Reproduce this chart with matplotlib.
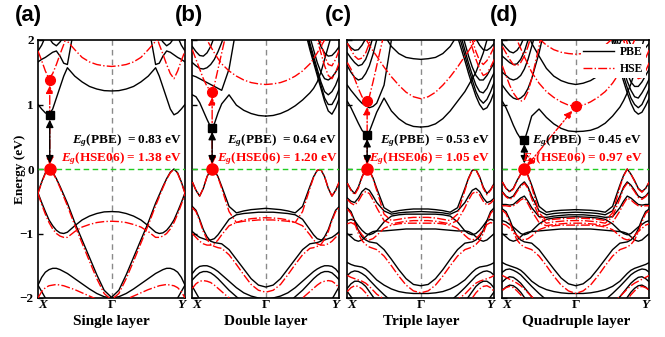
import numpy as np
import matplotlib
matplotlib.use('Agg')
import matplotlib.pyplot as plt
from matplotlib.lines import Line2D

plt.rcParams['font.family'] = ['Liberation Serif', 'DejaVu Serif']
plt.rcParams['font.weight'] = 'bold'
plt.rcParams['mathtext.fontset'] = 'custom'
plt.rcParams['mathtext.rm'] = 'Liberation Serif:bold'
plt.rcParams['mathtext.it'] = 'Liberation Serif:italic:bold'
plt.rcParams['mathtext.bf'] = 'Liberation Serif:bold'

# ---------------- data ----------------
# k grid from X (0) to Gamma (1); Gamma->Y mirrors it (Y = 2)
K_HALF = [0, .05, .1, .15, .2, .25, .3, .35, .4, .5, .6, .7, .8, .9, 1.0]
K_TICKS = [0, 1, 2]
K_TICK_LABELS = ['X', 'Γ', 'Y']
PANEL_TAGS = ['(a)', '(b)', '(c)', '(d)']
LAYER_NAMES = ['Single layer', 'Double layer', 'Triple layer', 'Quadruple layer']
EG_PBE = [0.83, 0.64, 0.53, 0.45]
EG_HSE = [1.38, 1.20, 1.05, 0.97]
K_EDGE = [0.16, 0.27, 0.27, 0.30]      # k of VBM / PBE CBM
K_HSE_CBM = [0.16, 0.27, 0.27, 1.0]    # k of HSE CBM

# ---- (a) single layer ----
a_pbe_sym = [
    [-0.37, -0.20, -0.06, 0.00, -0.05, -0.15, -0.27, -0.40, -0.53, -0.83, -1.10, -1.37, -1.64, -1.88, -1.99],
    [-0.37, -0.52, -0.66, -0.79, -0.88, -0.95, -0.99, -1.00, -0.98, -0.88, -0.79, -0.73, -0.69, -0.665, -0.66],
    [-1.80, -1.68, -1.60, -1.56, -1.54, -1.54, -1.56, -1.59, -1.62, -1.70, -1.78, -1.86, -1.93, -1.98, -2.00],
    [-1.80, -1.90, -2.00, -2.10, -2.20, -2.30, -2.40, -2.50, -2.60, -2.80, -3.0, -3.0, -3.0, -3.0, -3.0],
    [1.00, 0.93, 0.87, 0.84, 0.93, 1.10, 1.27, 1.44, 1.57, 1.44, 1.35, 1.28, 1.24, 1.215, 1.21],
    [1.66, 1.70, 1.73, 1.77, 1.81, 1.83, 1.75, 1.64, 1.62, 2.25, 3.0, 3.0, 3.0, 3.0, 3.0],
    [2.30, 2.20, 2.10, 2.03, 1.95, 1.91, 1.97, 2.05, 2.15, 2.30, 2.50, 2.60, 2.70, 2.75, 2.80],
    [1.83, 1.92, 2.05, 2.20, 2.35, 2.50, 2.60, 2.70, 2.80, 3.0, 3.0, 3.0, 3.0, 3.0, 3.0],
]
a_pbe_left = []
a_pbe_right = []
a_hse_sym = [
    [-0.38, -0.21, -0.07, 0.00, -0.06, -0.16, -0.29, -0.43, -0.57, -0.87, -1.15, -1.43, -1.70, -1.93, -2.03],
    [-0.38, -0.55, -0.70, -0.83, -0.93, -1.00, -1.04, -1.06, -1.06, -0.97, -0.90, -0.86, -0.83, -0.815, -0.81],
    [-2.00, -1.90, -1.84, -1.81, -1.80, -1.79, -1.80, -1.81, -1.83, -1.87, -1.92, -1.97, -2.02, -2.07, -2.10],
    [1.83, 1.68, 1.52, 1.40, 1.48, 1.62, 1.78, 1.93, 2.10, 2.50, 3.0, 3.0, 3.0, 3.0, 3.0],
    [2.40, 2.35, 2.30, 2.25, 2.20, 2.15, 2.10, 2.04, 1.98, 1.85, 1.73, 1.66, 1.62, 1.60, 1.59],
]
a_hse_left = []
a_hse_right = []

# ---- (b) double layer ----
b_pbe_sym = [
    [-0.20, -0.33, -0.42, -0.30, -0.12, -0.01, -0.02, -0.12, -0.27, -0.58, -0.68, -0.65, -0.63, -0.62, -0.61],
    [-0.58, -0.64, -0.78, -0.94, -1.05, -1.12, -1.14, -1.15, -1.16, -1.25, -1.40, -1.55, -1.70, -1.80, -1.83],
    [-0.97, -1.02, -1.06, -1.08, -1.10, -1.10, -1.08, -1.02, -0.94, -0.78, -0.71, -0.69, -0.68, -0.67, -0.67],
    [-1.62, -1.55, -1.51, -1.50, -1.50, -1.52, -1.55, -1.59, -1.64, -1.74, -1.84, -1.92, -1.97, -2.00, -2.02],
    [-1.72, -1.66, -1.61, -1.59, -1.59, -1.61, -1.65, -1.70, -1.76, -1.88, -1.98, -2.08, -2.14, -2.18, -2.20],
    [-1.82, -1.92, -2.02, -2.12, -2.22, -2.32, -2.42, -2.52, -2.62, -2.82, -3.0, -3.0, -3.0, -3.0, -3.0],
    [1.90, 1.82, 1.76, 1.75, 1.80, 1.90, 2.05, 2.20, 2.40, 2.80, 3.0, 3.0, 3.0, 3.0, 3.0],
]
b_pbe_left = [
    [1.15, 1.12, 1.03, 0.90, 0.77, 0.65, 0.70, 0.87, 1.01, 1.15, 0.99, 0.91, 0.86, 0.83, 0.82],
    [1.45, 1.43, 1.40, 1.37, 1.34, 1.31, 1.28, 1.25, 1.22, 1.55, 2.20, 3.0, 3.0, 3.0, 3.0],
    [1.65, 1.60, 1.56, 1.55, 1.57, 1.62, 1.70, 1.82, 1.96, 2.30, 3.0, 3.0, 3.0, 3.0, 3.0],
]
b_pbe_right = [
    [2.50, 2.30, 2.10, 1.90, 1.70, 1.50, 1.35, 1.25, 1.18, 1.07, 0.98, 0.91, 0.86, 0.83, 0.82],
    [1.10, 0.95, 0.85, 0.90, 1.05, 1.25, 1.45, 1.65, 1.85, 2.30, 3.0, 3.0, 3.0, 3.0, 3.0],
    [1.25, 1.10, 1.00, 1.00, 1.10, 1.30, 1.50, 1.70, 1.90, 2.40, 3.0, 3.0, 3.0, 3.0, 3.0],
    [1.45, 1.30, 1.20, 1.15, 1.20, 1.35, 1.55, 1.75, 1.95, 2.45, 3.0, 3.0, 3.0, 3.0, 3.0],
    [1.60, 1.50, 1.42, 1.38, 1.40, 1.50, 1.65, 1.85, 2.05, 2.55, 3.0, 3.0, 3.0, 3.0, 3.0],
]
b_hse_sym = [
    [-0.20, -0.33, -0.42, -0.30, -0.12, -0.01, -0.02, -0.13, -0.30, -0.66, -0.83, -0.79, -0.77, -0.76, -0.755],
    [-0.60, -0.66, -0.80, -0.97, -1.09, -1.17, -1.20, -1.22, -1.23, -1.33, -1.48, -1.64, -1.79, -1.88, -1.91],
    [-1.00, -1.06, -1.12, -1.16, -1.18, -1.18, -1.16, -1.10, -1.02, -0.88, -0.83, -0.81, -0.80, -0.79, -0.79],
    [-1.85, -1.78, -1.74, -1.73, -1.74, -1.76, -1.80, -1.85, -1.90, -2.00, -2.10, -2.20, -2.25, -2.30, -2.30],
    [2.60, 2.40, 2.25, 2.10, 2.00, 1.90, 1.80, 1.71, 1.63, 1.52, 1.44, 1.38, 1.34, 1.32, 1.31],
]
b_hse_left = [
    [1.85, 1.70, 1.55, 1.40, 1.28, 1.21, 1.30, 1.55, 1.80, 2.30, 3.0, 3.0, 3.0, 3.0, 3.0],
]
b_hse_right = [
    [1.65, 1.50, 1.40, 1.45, 1.60, 1.80, 2.00, 2.20, 2.40, 2.80, 3.0, 3.0, 3.0, 3.0, 3.0],
    [1.85, 1.70, 1.60, 1.62, 1.75, 1.95, 2.15, 2.35, 2.55, 3.0, 3.0, 3.0, 3.0, 3.0, 3.0],
]

# ---- (c) triple layer ----
c_pbe_sym = [
    [-0.22, -0.32, -0.38, -0.28, -0.12, -0.01, -0.02, -0.14, -0.30, -0.60, -0.67, -0.645, -0.63, -0.62, -0.62],
    [-0.45, -0.50, -0.52, -0.45, -0.35, -0.30, -0.33, -0.42, -0.52, -0.65, -0.70, -0.68, -0.67, -0.665, -0.66],
    [-0.60, -0.66, -0.80, -0.95, -1.05, -1.10, -1.13, -1.14, -1.15, -1.25, -1.40, -1.56, -1.70, -1.79, -1.81],
    [-0.80, -0.78, -0.80, -0.88, -0.95, -1.00, -1.02, -1.00, -0.96, -0.82, -0.73, -0.71, -0.70, -0.70, -0.70],
    [-1.00, -1.05, -1.10, -1.12, -1.10, -1.05, -1.00, -0.97, -0.96, -0.96, -0.95, -0.94, -0.93, -0.93, -0.93],
    [-1.45, -1.48, -1.50, -1.51, -1.52, -1.55, -1.60, -1.66, -1.72, -1.80, -1.86, -1.90, -1.92, -1.93, -1.93],
    [-1.65, -1.60, -1.58, -1.59, -1.62, -1.66, -1.72, -1.78, -1.84, -1.95, -2.05, -2.12, -2.16, -2.18, -2.20],
    [-1.85, -1.78, -1.74, -1.74, -1.77, -1.82, -1.90, -1.98, -2.06, -2.20, -2.30, -2.40, -2.40, -2.40, -2.40],
    [-1.90, -1.98, -2.06, -2.15, -2.25, -2.35, -2.45, -2.55, -2.65, -2.85, -3.0, -3.0, -3.0, -3.0, -3.0],
    [3.0, 3.0, 3.0, 3.0, 3.0, 2.80, 2.60, 2.45, 2.30, 2.08, 1.90, 1.79, 1.73, 1.71, 1.70],
    [1.95, 1.88, 1.84, 1.85, 1.92, 2.02, 2.15, 2.30, 2.45, 2.80, 3.0, 3.0, 3.0, 3.0, 3.0],
]
c_pbe_left = [
    [1.05, 0.95, 0.83, 0.71, 0.60, 0.54, 0.58, 0.73, 0.88, 1.10, 0.90, 0.78, 0.70, 0.66, 0.65],
    [1.30, 1.22, 1.15, 1.08, 1.02, 0.98, 0.95, 0.97, 1.02, 1.30, 2.00, 2.60, 3.0, 3.0, 3.0],
    [1.60, 1.50, 1.42, 1.38, 1.40, 1.48, 1.60, 1.78, 2.00, 2.50, 3.0, 3.0, 3.0, 3.0, 3.0],
    [1.80, 1.72, 1.65, 1.60, 1.62, 1.70, 1.85, 2.05, 2.30, 3.0, 3.0, 3.0, 3.0, 3.0, 3.0],
]
c_pbe_right = [
    [2.40, 2.20, 2.00, 1.80, 1.65, 1.50, 1.40, 1.30, 1.20, 1.05, 0.90, 0.78, 0.70, 0.66, 0.65],
    [1.20, 1.05, 0.95, 0.92, 1.00, 1.13, 1.30, 1.48, 1.68, 2.05, 2.60, 3.0, 3.0, 3.0, 3.0],
    [1.35, 1.20, 1.08, 1.02, 1.08, 1.20, 1.38, 1.56, 1.76, 2.15, 2.70, 3.0, 3.0, 3.0, 3.0],
    [1.50, 1.38, 1.25, 1.18, 1.20, 1.30, 1.46, 1.64, 1.84, 2.25, 2.80, 3.0, 3.0, 3.0, 3.0],
    [1.65, 1.55, 1.45, 1.38, 1.38, 1.45, 1.58, 1.75, 1.95, 2.40, 3.0, 3.0, 3.0, 3.0, 3.0],
]
c_hse_sym = [
    [-0.22, -0.33, -0.40, -0.30, -0.13, -0.01, -0.02, -0.15, -0.33, -0.70, -0.80, -0.78, -0.76, -0.75, -0.75],
    [-0.47, -0.53, -0.56, -0.50, -0.40, -0.35, -0.38, -0.48, -0.60, -0.80, -0.85, -0.83, -0.81, -0.80, -0.80],
    [-0.62, -0.69, -0.84, -1.00, -1.11, -1.17, -1.21, -1.23, -1.25, -1.35, -1.50, -1.66, -1.80, -1.89, -1.92],
    [-0.85, -0.83, -0.86, -0.94, -1.02, -1.08, -1.10, -1.08, -1.03, -0.92, -0.87, -0.85, -0.84, -0.84, -0.84],
    [-1.65, -1.68, -1.70, -1.72, -1.74, -1.77, -1.82, -1.88, -1.94, -2.02, -2.10, -2.15, -2.18, -2.20, -2.20],
    [-1.90, -1.84, -1.81, -1.82, -1.86, -1.92, -2.00, -2.08, -2.16, -2.30, -2.40, -2.50, -2.50, -2.50, -2.50],
    [2.80, 2.60, 2.45, 2.30, 2.15, 2.02, 1.92, 1.83, 1.75, 1.58, 1.43, 1.30, 1.19, 1.12, 1.09],
]
c_hse_left = [
    [1.65, 1.55, 1.40, 1.25, 1.12, 1.06, 1.12, 1.35, 1.60, 2.10, 3.0, 3.0, 3.0, 3.0, 3.0],
    [1.95, 1.85, 1.75, 1.70, 1.72, 1.80, 1.95, 2.10, 2.30, 3.0, 3.0, 3.0, 3.0, 3.0, 3.0],
]
c_hse_right = [
    [1.70, 1.58, 1.48, 1.45, 1.55, 1.70, 1.88, 2.05, 2.25, 2.70, 3.0, 3.0, 3.0, 3.0, 3.0],
    [1.90, 1.78, 1.68, 1.62, 1.68, 1.82, 2.00, 2.20, 2.40, 3.0, 3.0, 3.0, 3.0, 3.0, 3.0],
]

# ---- (d) quadruple layer ----
d_pbe_sym = [
    [-0.20, -0.30, -0.35, -0.30, -0.18, -0.08, 0.00, -0.10, -0.25, -0.58, -0.67, -0.65, -0.64, -0.635, -0.63],
    [-0.35, -0.42, -0.45, -0.42, -0.33, -0.25, -0.20, -0.28, -0.42, -0.65, -0.71, -0.69, -0.68, -0.675, -0.67],
    [-0.55, -0.55, -0.56, -0.55, -0.50, -0.45, -0.42, -0.50, -0.60, -0.74, -0.75, -0.73, -0.72, -0.71, -0.71],
    [-0.62, -0.66, -0.78, -0.93, -1.04, -1.10, -1.13, -1.14, -1.15, -1.25, -1.40, -1.55, -1.69, -1.78, -1.81],
    [-0.80, -0.82, -0.86, -0.90, -0.95, -1.00, -1.02, -1.00, -0.96, -0.85, -0.78, -0.76, -0.75, -0.745, -0.74],
    [-1.00, -1.05, -1.10, -1.12, -1.10, -1.05, -1.00, -0.98, -0.97, -0.96, -0.95, -0.94, -0.93, -0.93, -0.93],
    [-1.45, -1.48, -1.50, -1.52, -1.54, -1.57, -1.62, -1.68, -1.74, -1.82, -1.87, -1.90, -1.92, -1.93, -1.93],
    [-1.60, -1.56, -1.55, -1.57, -1.60, -1.64, -1.70, -1.76, -1.82, -1.93, -2.03, -2.10, -2.14, -2.16, -2.17],
    [-1.75, -1.70, -1.67, -1.68, -1.72, -1.77, -1.84, -1.91, -1.98, -2.10, -2.20, -2.30, -2.30, -2.30, -2.30],
    [-1.88, -1.83, -1.80, -1.81, -1.85, -1.91, -1.99, -2.07, -2.15, -2.30, -2.40, -2.50, -2.50, -2.50, -2.50],
    [3.0, 3.0, 3.0, 3.0, 3.0, 2.60, 2.30, 2.10, 1.95, 1.75, 1.56, 1.44, 1.37, 1.33, 1.31],
    [1.95, 1.88, 1.82, 1.80, 1.84, 1.92, 2.05, 2.20, 2.35, 2.70, 3.0, 3.0, 3.0, 3.0, 3.0],
]
d_pbe_left = [
    [1.05, 0.95, 0.82, 0.68, 0.56, 0.47, 0.44, 0.62, 0.82, 0.93, 0.80, 0.70, 0.63, 0.59, 0.58],
    [1.30, 1.22, 1.15, 1.10, 1.08, 1.10, 1.15, 1.25, 1.40, 1.80, 2.30, 3.0, 3.0, 3.0, 3.0],
    [1.50, 1.45, 1.40, 1.38, 1.40, 1.45, 1.55, 1.70, 1.90, 2.30, 3.0, 3.0, 3.0, 3.0, 3.0],
    [1.75, 1.70, 1.65, 1.62, 1.63, 1.70, 1.82, 2.00, 2.20, 2.70, 3.0, 3.0, 3.0, 3.0, 3.0],
]
d_pbe_right = [
    [2.30, 2.10, 1.90, 1.70, 1.50, 1.32, 1.18, 1.06, 0.96, 0.82, 0.71, 0.64, 0.60, 0.585, 0.58],
    [1.10, 0.98, 0.88, 0.85, 0.90, 1.02, 1.18, 1.36, 1.55, 1.95, 2.50, 3.0, 3.0, 3.0, 3.0],
    [1.25, 1.12, 1.00, 0.95, 1.00, 1.10, 1.26, 1.44, 1.62, 2.05, 2.60, 3.0, 3.0, 3.0, 3.0],
    [1.40, 1.28, 1.18, 1.10, 1.12, 1.22, 1.36, 1.54, 1.72, 2.15, 2.70, 3.0, 3.0, 3.0, 3.0],
    [1.55, 1.45, 1.35, 1.28, 1.28, 1.35, 1.48, 1.64, 1.84, 2.25, 2.80, 3.0, 3.0, 3.0, 3.0],
]
d_hse_sym = [
    [-0.20, -0.30, -0.36, -0.31, -0.19, -0.08, 0.00, -0.11, -0.28, -0.68, -0.80, -0.78, -0.77, -0.765, -0.76],
    [-0.36, -0.43, -0.47, -0.44, -0.35, -0.27, -0.22, -0.30, -0.46, -0.74, -0.84, -0.82, -0.81, -0.80, -0.80],
    [-0.57, -0.57, -0.58, -0.57, -0.53, -0.48, -0.45, -0.54, -0.65, -0.83, -0.88, -0.86, -0.85, -0.84, -0.84],
    [-0.64, -0.69, -0.82, -0.98, -1.10, -1.17, -1.21, -1.23, -1.25, -1.35, -1.50, -1.66, -1.80, -1.89, -1.93],
    [-0.85, -0.87, -0.92, -0.97, -1.03, -1.08, -1.10, -1.08, -1.04, -0.94, -0.90, -0.88, -0.87, -0.87, -0.87],
    [-1.65, -1.68, -1.71, -1.74, -1.77, -1.81, -1.86, -1.92, -1.98, -2.06, -2.12, -2.16, -2.18, -2.20, -2.20],
    [-1.88, -1.84, -1.82, -1.84, -1.89, -1.95, -2.03, -2.11, -2.19, -2.30, -2.40, -2.50, -2.50, -2.50, -2.50],
    [2.60, 2.45, 2.30, 2.15, 2.00, 1.87, 1.74, 1.62, 1.50, 1.33, 1.20, 1.11, 1.04, 0.99, 0.97],
    [3.0, 3.0, 3.0, 3.0, 2.80, 2.60, 2.45, 2.30, 2.18, 2.02, 1.92, 1.85, 1.81, 1.79, 1.78],
]
d_hse_left = [
    [1.60, 1.45, 1.30, 1.18, 1.10, 1.05, 1.08, 1.20, 1.40, 1.90, 2.50, 3.0, 3.0, 3.0, 3.0],
    [1.90, 1.80, 1.70, 1.62, 1.60, 1.65, 1.75, 1.90, 2.10, 2.60, 3.0, 3.0, 3.0, 3.0, 3.0],
]
d_hse_right = [
    [1.65, 1.52, 1.42, 1.40, 1.48, 1.62, 1.80, 2.00, 2.20, 2.60, 3.0, 3.0, 3.0, 3.0, 3.0],
    [1.85, 1.72, 1.62, 1.58, 1.64, 1.78, 1.95, 2.15, 2.35, 2.80, 3.0, 3.0, 3.0, 3.0, 3.0],
]

PANEL_BANDS = [
    (a_pbe_sym, a_pbe_left, a_pbe_right, a_hse_sym, a_hse_left, a_hse_right),
    (b_pbe_sym, b_pbe_left, b_pbe_right, b_hse_sym, b_hse_left, b_hse_right),
    (c_pbe_sym, c_pbe_left, c_pbe_right, c_hse_sym, c_hse_left, c_hse_right),
    (d_pbe_sym, d_pbe_left, d_pbe_right, d_hse_sym, d_hse_left, d_hse_right),
]

# ---------------- figure ----------------
W, H = 665, 337
fig = plt.figure(figsize=(W / 100, H / 100), dpi=100)

AX_LEFT_PX = [38, 192.3, 347.3, 502.3]
AX_W_PX = 147
AX_TOP_PX, AX_BOT_PX = 40, 298
TAG_X_PX = [15, 175, 325, 490]
TEXT_K = [1.95, 1.97, 1.94, 1.90]

kh = np.array(K_HALF)
k_full = np.concatenate([kh, 2 - kh[-2::-1]])


def full(vals):
    v = np.asarray(vals, dtype=float)
    return np.concatenate([v, v[-2::-1]])


for i in range(4):
    ax = fig.add_axes([AX_LEFT_PX[i] / W, 1 - AX_BOT_PX / H,
                       AX_W_PX / W, (AX_BOT_PX - AX_TOP_PX) / H])
    psym, pleft, pright, hsym, hleft, hright = PANEL_BANDS[i]
    for b in psym:
        ax.plot(k_full, full(b), color='black', lw=1.0, zorder=2)
    for b in pleft:
        ax.plot(kh, b, color='black', lw=1.0, zorder=2)
    for b in pright:
        ax.plot(2 - kh, b, color='black', lw=1.0, zorder=2)
    for b in hsym:
        ax.plot(k_full, full(b), color='red', lw=1.0, ls='-.', zorder=3)
    for b in hleft:
        ax.plot(kh, b, color='red', lw=1.0, ls='-.', zorder=3)
    for b in hright:
        ax.plot(2 - kh, b, color='red', lw=1.0, ls='-.', zorder=3)

    ax.axvline(1, color='#8a8a8a', lw=1.0, ls=(0, (4, 3)), zorder=1)
    ax.axhline(0, color='#22cc22', lw=1.0, ls=(0, (4, 2.5)), zorder=3.5)

    kv = K_EDGE[i]
    kc = K_HSE_CBM[i]
    # gap arrows
    ax.annotate('', xy=(kc, EG_HSE[i]), xytext=(kv, 0),
                arrowprops=dict(arrowstyle='<|-|>,head_length=0.45,head_width=0.22',
                                color='red', lw=1.0, ls='-.', shrinkA=3, shrinkB=4),
                zorder=5)
    ax.annotate('', xy=(kv, EG_PBE[i]), xytext=(kv, 0),
                arrowprops=dict(arrowstyle='<|-|>,head_length=0.45,head_width=0.22',
                                color='black', lw=1.0, shrinkA=4, shrinkB=3),
                zorder=5)
    ax.plot(kv, EG_PBE[i], 's', color='black', ms=5.5, zorder=6)
    ax.plot(kc, EG_HSE[i], 'o', color='red', ms=7, zorder=6)
    ax.plot(kv, 0, 'o', color='red', ms=8, zorder=6)

    ax.text(TEXT_K[i], 0.44, r'$E_g$(PBE)  = %.2f eV' % EG_PBE[i],
            ha='right', va='center', fontsize=9.5, color='black', zorder=7)
    ax.text(TEXT_K[i], 0.16, r'$E_g$(HSE06) = %.2f eV' % EG_HSE[i],
            ha='right', va='center', fontsize=9.5, color='red', zorder=7)

    ax.set_xlim(0, 2)
    ax.set_ylim(-2, 2)
    ax.set_xticks(K_TICKS)
    ax.set_xticklabels(K_TICK_LABELS)
    xl = ax.get_xticklabels()
    xl[0].set_style('italic'); xl[0].set_ha('left')
    xl[2].set_style('italic'); xl[2].set_ha('right')
    ax.tick_params(axis='x', length=0, pad=1, labelsize=9.5)
    ax.set_yticks([-2, -1, 0, 1, 2])
    ax.tick_params(axis='y', direction='in', length=3.5, width=1.0,
                   labelsize=9.5, pad=3, labelleft=(i == 0))
    for s in ax.spines.values():
        s.set_linewidth(1.2)

    fig.text((AX_LEFT_PX[i] + AX_W_PX / 2) / W, 1 - 322 / H, LAYER_NAMES[i],
             ha='center', va='center', fontsize=11, fontweight='bold')
    fig.text(TAG_X_PX[i] / W, 1 - 16 / H, PANEL_TAGS[i], ha='left', va='center',
             fontsize=16, fontweight='bold', family='Liberation Sans')

    if i == 3:
        handles = [Line2D([], [], color='black', lw=1.0),
                   Line2D([], [], color='red', lw=1.0, ls='-.')]
        leg = ax.legend(handles, ['PBE', 'HSE'], loc='upper right', frameon=True,
                        fontsize=8.5, handlelength=2.6, borderaxespad=0.3,
                        borderpad=0.2, labelspacing=0.45, handletextpad=0.5,
                        fancybox=False, framealpha=1.0)
        leg.get_frame().set_edgecolor('none')
        leg.get_frame().set_facecolor('white')
        leg.set_zorder(8)

fig.text(20 / W, 1 - 169 / H, 'Energy (eV)', rotation=90, ha='center', va='center',
         fontsize=9.5, fontweight='bold')

fig.savefig('out.png', dpi=100)
